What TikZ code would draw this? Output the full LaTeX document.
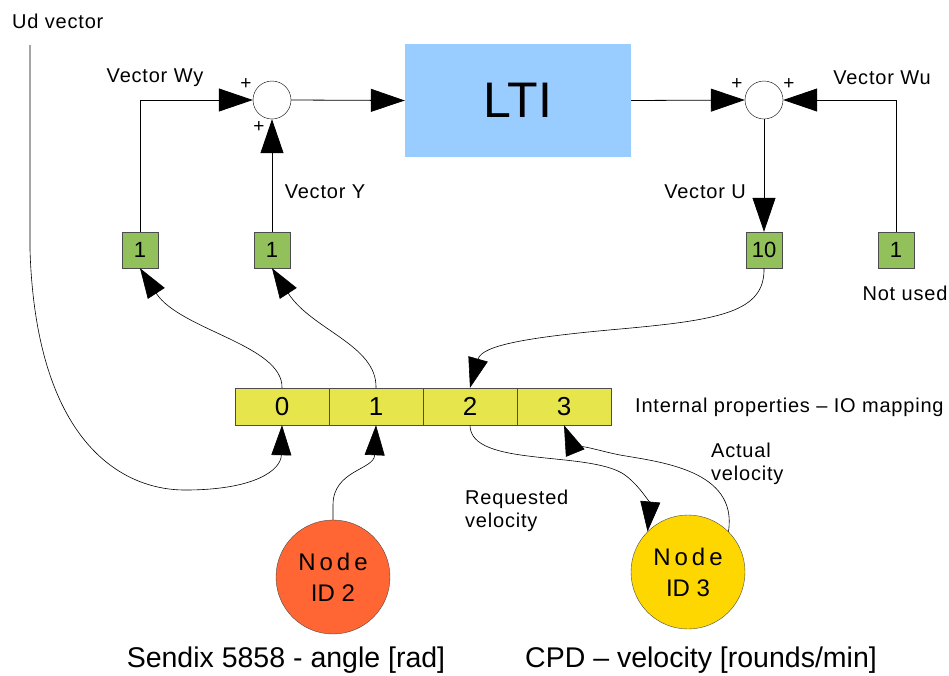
\documentclass[tikz,border=0pt]{standalone}
\usepackage{fontspec}
\setmainfont{Liberation Sans}
\newfontfamily\lblfont[LetterSpace=4]{Liberation Sans}
\usetikzlibrary{arrows.meta}
\definecolor{ltiblue}{HTML}{99CCFF}
\definecolor{regGreen}{HTML}{92C05A}
\definecolor{cellYellow}{HTML}{E6E64C}
\definecolor{nodeRed}{HTML}{FF6633}
\definecolor{nodeGold}{HTML}{FFD700}
\tikzset{
  lbl/.style={font=\lblfont\fontsize{20}{23}\selectfont, inner sep=0pt},
  biglbl/.style={font=\fontsize{28.5}{31}\selectfont, inner sep=0pt},
  reg/.style={draw=black!70, fill=regGreen, minimum width=36pt, minimum height=36pt,
    inner sep=0pt, font=\fontsize{22}{24}\selectfont},
  cell/.style={draw=black!70, fill=cellYellow, minimum width=94pt, minimum height=37pt,
    inner sep=0pt, font=\fontsize{26}{28}\selectfont},
  summer/.style={circle, draw, fill=white, minimum size=38pt, inner sep=0pt},
  devnode/.style={circle, draw=black!70, minimum size=114pt, inner sep=0pt,
    align=center, font=\fontsize{24}{31}\selectfont},
  wire/.style={line width=0.8pt},
  flow/.style={wire, -{Triangle[length=34pt,width=23pt]}},
  mapline/.style={line width=0.6pt, -{Triangle[length=30pt,width=20pt]}},
  sign/.style={font=\fontsize{19}{19}\selectfont, inner sep=0pt}
}
\begin{document}
\begin{tikzpicture}[x=1pt,y=-1pt]
\useasboundingbox (0,0) rectangle (949,675);

% control loop blocks
\node[draw=none, fill=ltiblue, minimum width=226pt, minimum height=113pt,
  font=\fontsize{50}{54}\selectfont] (lti) at (518,100.5) {LTI};
\node[summer] (s1) at (272,100) {};
\node[summer] (s2) at (764,100) {};
\node[sign] at (246,84) {+};
\node[sign] at (259,127) {+};
\node[sign] at (737,84) {+};
\node[sign] at (789,84) {+};

% register boxes
\node[reg] (wy) at (140,250) {1};
\node[reg] (y) at (272,250) {1};
\node[reg] (u) at (764,250) {10};
\node[reg] (wu) at (896,250) {1};

% IO mapping cells
\node[cell] (c0) at (282,406.5) {0};
\node[cell] (c1) at (376,406.5) {1};
\node[cell] (c2) at (470,406.5) {2};
\node[cell] (c3) at (564,406.5) {3};

% devices
\node[devnode, fill=nodeRed] (n2) at (333,577) {N\,o\,d\,e\\ID 2};
\node[devnode, fill=nodeGold] (n3) at (688,572) {N\,o\,d\,e\\ID 3};

% labels
\node[lbl, anchor=west] (udl) at (12,21) {Ud vector};
\node[lbl] at (155,78) {Vector Wy};
\node[lbl] at (325,192) {Vector Y};
\node[lbl] at (705,192) {Vector U};
\node[lbl] at (882,78) {Vector Wu};
\node[lbl] at (905,293) {Not used};
\node[lbl, anchor=west] at (635,407) {Internal properties – IO mapping};
\node[lbl, anchor=north west, align=left] at (465,490) {Requested\\velocity};
\node[lbl, anchor=north west, align=left] at (711,443) {Actual\\velocity};
\node[biglbl] at (286,660) {Sendix 5858 - angle [rad]};
\node[biglbl] at (701,660) {CPD – velocity [rounds/min]};

\coordinate (udtop) at (30,45);

% straight signal flow
\draw[flow] (wy.north) |- (s1.west);
\draw[flow] (y.north) -- (s1.south);
\draw[flow] (s1.east) -- (lti.west);
\draw[flow] (lti.east) -- (s2.west);
\draw[flow] (wu.north) |- (s2.east);
\draw[flow] (s2.south) -- (u.north);

% curved mappings
\draw[mapline] (c0.north) .. controls (283,345) and (180,330) .. (wy.south);
\draw[mapline] (c1.north) .. controls (377,345) and (312,330) .. (y.south);
\draw[mapline] (u.south) .. controls (765,312) and (720,320) .. (620,329)
  .. controls (530,337) and (482,345) .. (c2.north);
\draw[mapline] (udtop) -- (30,250) .. controls (36,440) and (120,490) .. (185,490)
  .. controls (255,490) and (281,470) .. (c0.south);
\draw[mapline] (n2.north) -- (333,505) .. controls (333,470) and (374,470) .. (c1.south);
\draw[mapline] (c2.south) .. controls (470,468) and (590,450) .. (625,475)
  .. controls (642,488) and (650,505) .. (n3.north west);
\draw[mapline] (n3.north east) .. controls (738,470) and (660,462) .. (620,455)
  .. controls (590,449) and (570,440) .. (c3.south);
\end{tikzpicture}
\end{document}
